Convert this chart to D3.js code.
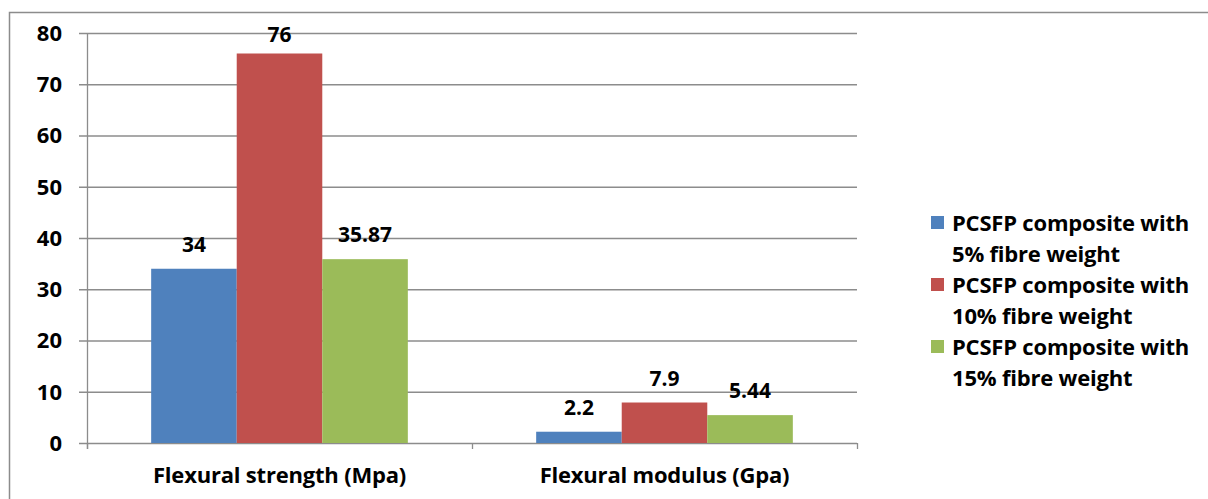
<!DOCTYPE html>
<html><head><meta charset="utf-8">
<script src="https://cdn.jsdelivr.net/npm/d3@7"></script>
<style>body{margin:0;background:#fff}svg{display:block}text{font-family:"Open Sans",Lato,sans-serif;font-weight:bold;fill:#000}</style>
</head><body><svg id="c" width="1208" height="499"></svg>
<script>
const categories = ["Flexural strength (Mpa)", "Flexural modulus (Gpa)"];
const seriesNames = ["PCSFP composite with 5% fibre weight", "PCSFP composite with 10% fibre weight", "PCSFP composite with 15% fibre weight"];
const legendLines = [["PCSFP composite with", "5% fibre weight"], ["PCSFP composite with", "10% fibre weight"], ["PCSFP composite with", "15% fibre weight"]];
const s5 = [34, 2.2];
const s10 = [76, 7.9];
const s15 = [35.87, 5.44];
const labels5 = ["34", "2.2"];
const labels10 = ["76", "7.9"];
const labels15 = ["35.87", "5.44"];
const yTicks = [0, 10, 20, 30, 40, 50, 60, 70, 80];
const colors = ["#4f81bd", "#c0504d", "#9bbb59"];

const series = [s5, s10, s15];
const seriesLabels = [labels5, labels10, labels15];
const svg = d3.select("#c");
const grid = "#8c8c8c";

// outer frame
svg.append("path").attr("d", "M9.5,499 V12.5 H1208").attr("fill", "none").attr("stroke", grid).attr("stroke-width", 1.5);

const x0 = d3.scaleBand().domain(categories).range([87, 857]).paddingInner(0).paddingOuter(0);
const x1 = d3.scaleBand().domain(d3.range(3)).range([0, x0.bandwidth()]).paddingInner(0).paddingOuter(0.75);
const y = d3.scaleLinear().domain([0, 80]).range([443, 33]);

// gridlines
svg.append("g").selectAll("line").data(yTicks).join("line")
  .attr("x1", 79).attr("x2", 857).attr("y1", d => y(d) + 0.5).attr("y2", d => y(d) + 0.5)
  .attr("stroke", grid).attr("stroke-width", 1.3);

// y axis line
svg.append("line").attr("x1", 87.5).attr("x2", 87.5).attr("y1", y(80)).attr("y2", 449).attr("stroke", grid).attr("stroke-width", 1.3);
// x category ticks
svg.append("g").selectAll("line").data([87, 472, 857]).join("line")
  .attr("x1", d => d + 0.5).attr("x2", d => d + 0.5).attr("y1", y(0)).attr("y2", 449)
  .attr("stroke", grid).attr("stroke-width", 1.3);

// y tick labels
svg.append("g").selectAll("text").data(yTicks).join("text")
  .attr("x", 62).attr("y", d => y(d)).attr("dy", "0.36em").attr("text-anchor", "end")
  .attr("font-size", 22).text(d => d);

// bars
categories.forEach((c, ci) => {
  series.forEach((s, si) => {
    const bx = x0(c) + x1(si);
    svg.append("rect").attr("x", bx).attr("width", x1.bandwidth())
      .attr("y", y(s[ci])).attr("height", y(0) - y(s[ci])).attr("fill", colors[si]);
    svg.append("text").attr("x", bx + x1.bandwidth() / 2).attr("y", Math.max(y(s[ci]) - 17, 42))
      .attr("text-anchor", "middle").attr("font-size", 21).text(seriesLabels[si][ci]);
  });
  svg.append("text").attr("x", x0(c) + x0.bandwidth() / 2).attr("y", 483)
    .attr("text-anchor", "middle").attr("font-size", 22).attr("letter-spacing", -0.2).text(c);
});

// legend
const lg = svg.append("g");
legendLines.forEach((lines, i) => {
  const top = 223 + i * 62;
  lg.append("rect").attr("x", 931).attr("y", top - 7).attr("width", 13).attr("height", 13).attr("fill", colors[i]);
  lines.forEach((t, j) => {
    lg.append("text").attr("x", 952).attr("y", top + j * 31).attr("dy", "0.36em").attr("font-size", 22).attr("letter-spacing", -0.2).text(t);
  });
});
</script></body></html>
